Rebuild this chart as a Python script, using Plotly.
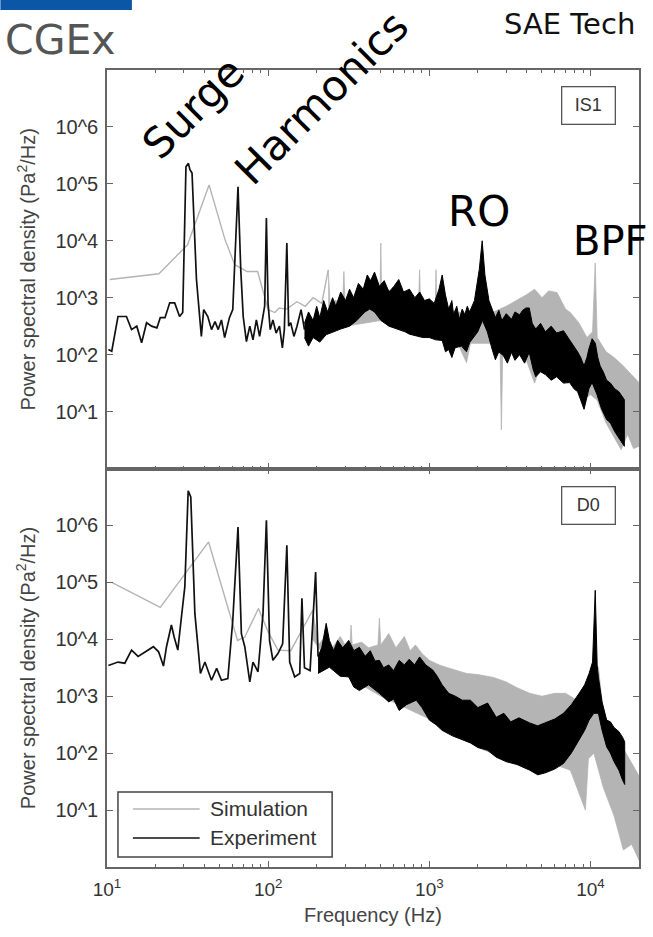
import numpy as np
import plotly.graph_objects as go

# ---------------- data (frequency in Hz, PSD given as log10 of Pa^2/Hz) ----------------
# IS1 - experiment, resolved low-frequency part
is1_exp_f = [10.2, 10.7, 11.7, 13.2, 14.2, 15.3, 16.4, 17.6, 18.9, 20.4, 21.4, 22.9, 24.5, 26.3, 28.2, 29.5,
             30.9, 32.0, 32.7, 33.7, 35.9, 38.5, 39.8, 42.2, 44.5, 46.8, 49.0, 51.3, 53.7, 57.5, 60.3, 63.1,
             65.0, 67.6, 70.0, 73.3, 76.9, 80.5, 84.5, 88.5, 92.9, 95.1, 97.5, 99.8, 103, 107, 112, 117.5,
             122.5, 126, 130.6, 134, 138, 144.5, 151, 160, 168]
is1_exp_v = [2.09, 2.06, 2.67, 2.67, 2.44, 2.50, 2.21, 2.56, 2.50, 2.47, 2.65, 2.65, 2.91, 2.91, 2.67, 2.74,
             5.30, 5.36, 5.25, 5.19, 3.32, 2.32, 2.79, 2.67, 2.44, 2.58, 2.44, 2.61, 2.30, 2.65, 2.79, 4.19,
             4.95, 3.49, 2.67, 2.23, 2.50, 2.26, 2.61, 2.32, 2.67, 2.85, 4.40, 2.91, 2.44, 2.61, 2.38, 2.50,
             2.12, 2.44, 3.96, 2.50, 2.56, 2.32, 2.50, 2.79, 2.44]
# IS1 - experiment, dense broadband part: upper and lower extent of the trace
is1_exp_hi_f = [168, 178, 190, 200, 209, 221, 234, 251, 263, 282, 302, 320, 339, 363, 389, 412, 432, 457, 490,
                525, 562, 603, 646, 692, 752, 813, 871, 933, 1000, 1072, 1148, 1202, 1259, 1318, 1380, 1413,
                1480, 1535, 1600, 1660, 1720, 1778, 1905, 2042, 2128, 2213, 2344, 2450, 2570, 2700, 2818,
                3000, 3236, 3400, 3631, 3800, 3981, 4169, 4350, 4571, 4900, 5248, 5700, 6166, 6800, 7413,
                7900, 8318, 8700, 9120, 9500, 9772, 10233, 10715, 11100, 11482, 12000, 12589, 13300, 14125,
                15000, 16218]
is1_exp_hi = [2.55, 2.75, 2.60, 2.85, 2.65, 2.95, 2.75, 3.00, 2.85, 3.10, 2.95, 3.15, 3.00, 3.25, 3.15, 3.40,
              3.30, 3.45, 3.20, 3.30, 3.10, 3.20, 3.32, 3.10, 3.15, 3.00, 3.10, 2.95, 2.98, 2.90, 3.15, 3.40,
              3.05, 2.80, 2.95, 2.70, 2.85, 2.62, 2.80, 2.70, 2.85, 2.75, 2.95, 3.50, 4.00, 3.40, 2.95, 2.80,
              2.65, 2.78, 2.60, 2.72, 2.62, 2.75, 2.70, 2.78, 2.82, 2.82, 2.55, 2.45, 2.55, 2.40, 2.50, 2.38,
              2.42, 2.26, 2.15, 2.05, 1.95, 1.80, 1.95, 2.10, 2.28, 2.20, 1.95, 1.80, 1.70, 1.55, 1.50, 1.40,
              1.35, 1.21]
is1_exp_lo_f = [168, 178, 190, 209, 229, 251, 282, 320, 355, 398, 427, 457, 501, 562, 646, 708, 752, 832, 912,
                1000, 1096, 1202, 1260, 1318, 1380, 1445, 1585, 1700, 1778, 1995, 2138, 2291, 2450, 2570,
                2700, 2884, 3050, 3236, 3400, 3631, 3900, 4169, 4400, 4571, 4900, 5248, 5700, 6166, 6800,
                7413, 7900, 8318, 8700, 9120, 9500, 9772, 10233, 10965, 11700, 12589, 13300, 14125, 15000,
                16218]
is1_exp_lo = [2.30, 2.15, 2.30, 2.22, 2.35, 2.40, 2.45, 2.50, 2.60, 2.75, 2.80, 2.75, 2.60, 2.50, 2.44, 2.40,
              2.36, 2.33, 2.30, 2.30, 2.26, 2.25, 2.05, 2.09, 1.95, 2.12, 2.15, 2.05, 2.21, 2.40, 2.60, 2.40,
              2.10, 1.91, 2.05, 1.98, 1.85, 2.04, 1.90, 2.00, 1.85, 2.04, 1.75, 1.61, 1.70, 1.65, 1.55, 1.61,
              1.50, 1.51, 1.40, 1.35, 1.20, 1.04, 1.25, 1.40, 1.51, 1.30, 1.05, 0.86, 0.80, 0.65, 0.55, 0.39]

# IS1 - simulation
is1_sim_f = [10.4, 21, 31.6, 43, 54, 62, 74, 86, 100, 110, 117, 130, 151, 170, 190, 215, 236]
is1_sim_v = [3.32, 3.42, 3.93, 4.98, 4.02, 3.58, 3.46, 3.46, 2.79, 2.74, 2.82, 2.80, 2.93, 2.85, 3.00, 2.90, 3.49]
is1_sim_hi_f = [236, 242, 260, 290, 295, 300, 350, 420, 490, 495, 500, 505, 600, 760, 860, 870, 880, 1000,
                1090, 1100, 1110, 1500, 2000, 2500, 3000, 3500, 4000, 4500, 5000, 5500, 6200, 7000, 7500,
                8500, 9500, 10300, 10700, 11000, 12500, 14000, 16000, 17500, 19500, 20000]
is1_sim_hi = [3.49, 2.90, 2.95, 2.90, 3.46, 2.90, 3.00, 3.10, 3.10, 3.20, 3.96, 3.20, 3.10, 3.00, 3.00, 3.49,
              3.00, 2.90, 2.90, 3.49, 2.90, 2.75, 2.70, 2.75, 2.85, 2.95, 3.05, 3.15, 3.00, 3.12, 3.09, 2.80,
              2.74, 2.55, 2.30, 2.40, 3.61, 2.30, 2.05, 1.95, 1.80, 1.68, 1.55, 1.51]
is1_sim_lo_f = [236, 300, 500, 1000, 1500, 1700, 1800, 2500, 2750, 2800, 2850, 3500, 4000, 4500, 5000, 6000,
                7000, 8000, 9000, 10000, 11000, 12500, 14000, 15500, 17000, 18500, 20000]
is1_sim_lo = [2.70, 2.50, 2.60, 2.30, 2.20, 1.86, 2.20, 2.20, 2.00, 0.68, 2.00, 2.10, 1.90, 1.50, 1.90, 1.80,
              1.70, 1.50, 1.20, 1.30, 1.20, 0.80, 0.55, 0.33, 0.60, 0.35, 0.39]

# D0 - experiment
d0_exp_f = [10.2, 11.7, 12.9, 14.2, 15.6, 17.2, 19.4, 20.9, 22.4, 23.4, 25.1, 26.1, 27.5, 28.8, 30.4, 31.9,
            33.1, 35.1, 38.0, 40.5, 44.5, 47.9, 51.3, 56.2, 60.3, 65.0, 68.2, 71.6, 76.9, 80.5, 86.5, 92.9,
            97.5, 102, 107, 115, 123, 130.6, 136, 146, 157, 162, 168, 182, 197, 204]
d0_exp_v = [3.54, 3.60, 3.58, 3.81, 3.70, 3.78, 3.87, 3.78, 3.53, 3.87, 4.25, 4.04, 3.81, 4.33, 4.92, 6.61,
            6.50, 4.45, 3.40, 3.60, 3.28, 3.49, 3.28, 3.31, 4.33, 5.97, 4.10, 3.87, 3.25, 3.60, 3.43, 4.45,
            6.09, 3.98, 3.63, 3.75, 3.92, 5.65, 3.60, 3.34, 3.40, 4.72, 3.50, 3.45, 5.18, 3.70]
d0_exp_hi_f = [204, 215, 229, 240, 255, 270, 290, 316, 340, 368, 400, 430, 460, 490, 520, 560, 600, 650, 700,
               750, 810, 870, 950, 1050, 1120, 1200, 1320, 1450, 1600, 1800, 2000, 2300, 2600, 2900, 3200,
               3600, 4200, 4700, 5200, 6000, 6800, 7600, 8500, 9200, 9800, 10300, 10700, 11000, 11200, 11800,
               12600, 13300, 14000, 15000, 15800, 16300]
d0_exp_hi = [3.70, 3.85, 4.28, 3.98, 3.80, 3.98, 3.85, 3.98, 3.80, 3.86, 3.70, 3.80, 3.62, 3.63, 3.50, 3.55,
             3.45, 3.63, 3.55, 3.65, 3.55, 3.69, 3.55, 3.46, 3.35, 3.20, 3.05, 3.00, 2.93, 2.93, 2.80, 2.88,
             2.63, 2.70, 2.55, 2.62, 2.53, 2.48, 2.53, 2.60, 2.70, 2.85, 3.05, 3.20, 3.40, 3.60, 4.86, 3.55,
             3.33, 2.90, 2.58, 2.55, 2.45, 2.38, 2.28, 2.20]
d0_exp_lo_f = [204, 240, 280, 316, 340, 368, 420, 490, 560, 600, 650, 720, 830, 900, 1000, 1100, 1200, 1400,
               1600, 1800, 2000, 2300, 2600, 3000, 3500, 4200, 4700, 5200, 6000, 6800, 7600, 8500, 9200, 9800,
               10500, 11200, 11800, 12600, 13300, 14000, 15000, 15800, 16300]
d0_exp_lo = [3.40, 3.51, 3.35, 3.34, 3.16, 3.10, 3.20, 3.05, 2.90, 2.95, 2.75, 2.85, 2.93, 2.80, 2.58, 2.50,
             2.40, 2.30, 2.23, 2.18, 2.10, 2.05, 1.93, 1.85, 1.80, 1.70, 1.62, 1.65, 1.72, 1.82, 2.00, 2.23,
             2.40, 2.58, 2.70, 2.70, 2.40, 2.11, 2.00, 1.85, 1.70, 1.53, 1.45]

# D0 - simulation
d0_sim_f = [10.7, 21.4, 42.7, 53.7, 64.6, 71.6, 87, 100, 115, 138, 160, 189]
d0_sim_v = [5.00, 4.56, 5.71, 4.74, 3.98, 4.04, 4.54, 4.13, 3.81, 3.80, 4.13, 4.51]
d0_sim_hi_f = [189, 205, 225, 250, 280, 300, 322, 327, 332, 380, 420, 480, 490, 500, 560, 620, 700, 760, 820,
               900, 1000, 1150, 1300, 1500, 1700, 2000, 2500, 3000, 3500, 4200, 5000, 6000, 7000, 8000, 9300,
               10000, 11200, 12000, 14500, 17000, 20000]
d0_sim_hi = [4.51, 3.90, 4.05, 3.85, 4.05, 3.90, 3.90, 4.25, 3.90, 3.95, 3.85, 3.90, 4.37, 3.90, 4.10, 3.85,
             4.05, 3.80, 3.90, 3.75, 3.63, 3.55, 3.50, 3.45, 3.40, 3.38, 3.33, 3.25, 3.15, 3.05, 3.00, 3.05,
             3.05, 2.95, 2.93, 3.20, 3.51, 2.70, 2.28, 1.95, 1.60]
d0_sim_lo_f = [189, 250, 500, 1000, 1500, 2000, 3000, 4000, 5000, 6000, 7500, 9300, 9700, 10500, 12000, 14000,
               16000, 18000, 20000]
d0_sim_lo = [4.00, 3.50, 3.00, 2.60, 2.30, 2.10, 1.90, 1.80, 1.75, 1.80, 1.70, 1.00, 1.90, 2.00, 1.40, 0.90,
             0.30, 0.40, 0.12]

# axis ticks
x_tickvals = [10, 100, 1000, 10000]
x_ticktext = ["10<sup>1</sup>", "10<sup>2</sup>", "10<sup>3</sup>", "10<sup>4</sup>"]
x_minor = [m * d for d in (10, 100, 1000, 10000) for m in range(2, 10) if m * d <= 20000]
y_tickvals = [1e1, 1e2, 1e3, 1e4, 1e5, 1e6]
y_ticktext = ["10^1", "10^2", "10^3", "10^4", "10^5", "10^6"]
legend_names = ["Simulation", "Experiment"]

# ---------------- figure ----------------
EXP = "#000000"
SIM = "#b4b4b4"
fig = go.Figure()


def p(v):
    return list(np.power(10.0, np.array(v, dtype=float)))


def add_panel(xa, ya, sim_f, sim_v, sim_hi_f, sim_hi, sim_lo_f, sim_lo,
              exp_f, exp_v, exp_hi_f, exp_hi, exp_lo_f, exp_lo):
    fig.add_trace(go.Scatter(x=sim_f, y=p(sim_v), mode="lines", line=dict(color=SIM, width=1.4),
                             name=legend_names[0], showlegend=False, xaxis=xa, yaxis=ya))
    fig.add_trace(go.Scatter(x=list(sim_hi_f) + list(sim_lo_f[::-1]), y=p(list(sim_hi) + list(sim_lo[::-1])),
                             mode="lines", fill="toself", fillcolor=SIM, line=dict(color=SIM, width=0.8),
                             showlegend=False, xaxis=xa, yaxis=ya, hoverinfo="skip"))
    fig.add_trace(go.Scatter(x=exp_f, y=p(exp_v), mode="lines", line=dict(color="#111111", width=1.7),
                             name=legend_names[1], showlegend=False, xaxis=xa, yaxis=ya))
    fig.add_trace(go.Scatter(x=list(exp_hi_f) + list(exp_lo_f[::-1]), y=p(list(exp_hi) + list(exp_lo[::-1])),
                             mode="lines", fill="toself", fillcolor=EXP, line=dict(color=EXP, width=1.0),
                             showlegend=False, xaxis=xa, yaxis=ya, hoverinfo="skip"))


add_panel("x2", "y2", is1_sim_f, is1_sim_v, is1_sim_hi_f, is1_sim_hi, is1_sim_lo_f, is1_sim_lo,
          is1_exp_f, is1_exp_v, is1_exp_hi_f, is1_exp_hi, is1_exp_lo_f, is1_exp_lo)
add_panel("x", "y", d0_sim_f, d0_sim_v, d0_sim_hi_f, d0_sim_hi, d0_sim_lo_f, d0_sim_lo,
          d0_exp_f, d0_exp_v, d0_exp_hi_f, d0_exp_hi, d0_exp_lo_f, d0_exp_lo)

AX = "#666666"
TICKFONT = dict(family="Liberation Sans, Arial, sans-serif", size=20, color="#333333")
xcommon = dict(type="log", range=[1, 4.301], showline=True, linecolor=AX, linewidth=1.6, mirror="allticks",
               ticks="inside", ticklen=6, tickcolor=AX, tickwidth=1, tickvals=x_tickvals, ticktext=x_ticktext,
               minor=dict(tickvals=x_minor, ticks="inside", ticklen=3, tickcolor=AX, tickwidth=1),
               showgrid=False, zeroline=False, tickfont=dict(TICKFONT, size=19))
ycommon = dict(type="log", range=[0, 7], showline=True, linecolor=AX, linewidth=1.6, mirror="allticks",
               ticks="inside", ticklen=6, tickcolor=AX, tickwidth=1, tickvals=y_tickvals, ticktext=y_ticktext,
               showgrid=False, zeroline=False, tickfont=TICKFONT, ticklabelstandoff=3)

fig.update_layout(
    width=653, height=937,
    margin=dict(l=107, r=12, t=70, b=70),
    paper_bgcolor="white", plot_bgcolor="white",
    xaxis=dict(xcommon, anchor="y", domain=[0, 1], ticklabelstandoff=4),
    xaxis2=dict(xcommon, anchor="y2", domain=[0, 1], matches="x", showticklabels=False),
    yaxis=dict(ycommon, anchor="x", domain=[0, 0.5]),
    yaxis2=dict(ycommon, anchor="x2", domain=[0.5, 1]),
    showlegend=False,
)

LBL = dict(family="Liberation Sans, Arial, sans-serif", color="#444444")
BIG = dict(family="DejaVu Sans, sans-serif", size=42, color="#000000")
ann = [
    dict(text="Power spectral density (Pa<sup>2</sup>/Hz)", x=-0.152, y=0.750, textangle=-90,
         font=dict(LBL, size=20)),
    dict(text="Power spectral density (Pa<sup>2</sup>/Hz)", x=-0.152, y=0.2497, textangle=-90,
         font=dict(LBL, size=20)),
    dict(text="Frequency (Hz)", x=0.5, y=-0.060, font=dict(LBL, size=20)),
    dict(text="IS1", x=0.906, y=0.956, width=52, height=36, bordercolor="#555555", borderwidth=1.3,
         borderpad=0, bgcolor="white", font=dict(LBL, size=18, color="#333333")),
    dict(text="D0", x=0.906, y=0.453, width=52, height=36, bordercolor="#555555", borderwidth=1.3,
         borderpad=0, bgcolor="white", font=dict(LBL, size=18, color="#333333")),
    dict(text="CGEx", x=-0.1948, y=1.0376, xanchor="left",
         font=dict(family="DejaVu Sans, sans-serif", size=41, color="#555555")),
    dict(text="SAE Tech", x=0.7416, y=1.0577, xanchor="left",
         font=dict(family="DejaVu Sans, sans-serif", size=29, color="#111111")),
    dict(text="Surge", x=0.161, y=0.952, textangle=-45, font=BIG),
    dict(text="Harmonics", x=0.4045, y=0.965, textangle=-45, font=BIG),
    dict(text="RO", x=0.6985, y=0.822, font=BIG),
    dict(text="BPF", x=0.946, y=0.785, font=dict(BIG, size=40)),
    # legend entries
    dict(text=legend_names[0], x=0.1891, y=0.0728, xanchor="left", font=dict(LBL, size=21, color="#333333")),
    dict(text=legend_names[1], x=0.1891, y=0.0364, xanchor="left", font=dict(LBL, size=21, color="#333333")),
]
for a in ann:
    a.setdefault("xref", "paper")
    a.setdefault("yref", "paper")
    a.setdefault("showarrow", False)
    a.setdefault("xanchor", "center")
    a.setdefault("yanchor", "middle")
fig.update_layout(annotations=ann)

# legend frame and line samples
fig.add_shape(type="rect", xref="paper", yref="paper", x0=0.0206, x1=0.4232, y0=0.01255, y1=0.0941,
              fillcolor="white", line=dict(color="#444444", width=1.5), layer="above")
fig.add_shape(type="line", xref="paper", yref="paper", x0=0.0487, x1=0.1742, y0=0.0728, y1=0.0728,
              line=dict(color=SIM, width=1.6), layer="above")
fig.add_shape(type="line", xref="paper", yref="paper", x0=0.0487, x1=0.1742, y0=0.0364, y1=0.0364,
              line=dict(color="#111111", width=1.6), layer="above")

fig.add_shape(type="rect", xref="paper", yref="paper", x0=-0.2004, x1=0.0468, y0=1.0753, y1=1.0878,
              fillcolor="#0b56a6", line=dict(width=0), layer="above")

fig.write_html("out.html", config={"displayModeBar": False},
               post_script="document.body.style.margin='0';")
